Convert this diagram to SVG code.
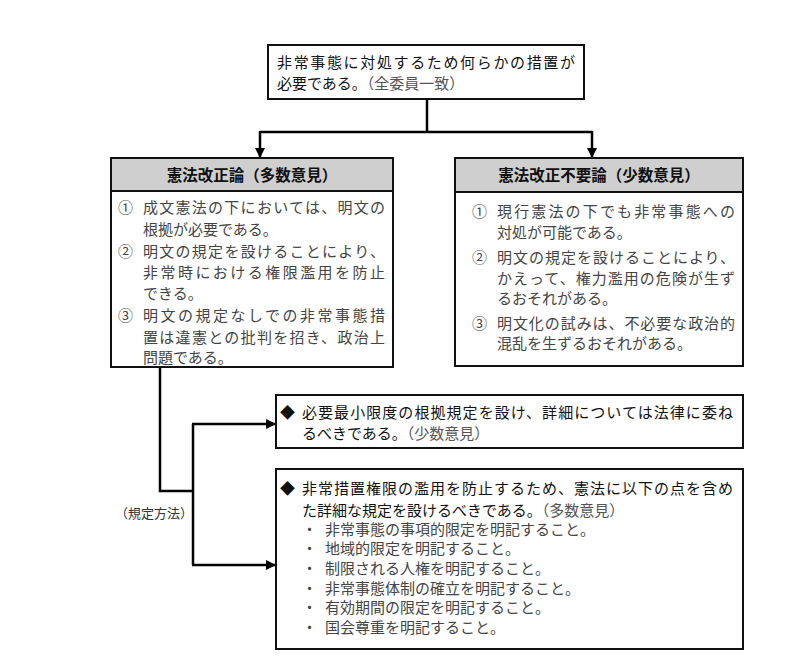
<svg xmlns="http://www.w3.org/2000/svg" width="800" height="656" viewBox="0 0 800 656">
<defs>
<style>
.box{fill:#fff;stroke:#111;stroke-width:2}
.hdr{fill:#cfcfcf;stroke:#111;stroke-width:2}
.con{fill:none;stroke:#000;stroke-width:2.5}
.s{font-family:"Noto Sans CJK JP","Noto Sans CJK SC",sans-serif;font-size:15px;fill:#111}
.b{font-family:"Noto Sans CJK JP","Noto Sans CJK SC",sans-serif;font-size:15.5px;font-weight:bold;fill:#111}
.m{font-family:"Noto Sans CJK JP","Noto Sans CJK SC",sans-serif;font-size:15px;fill:#444}
.g{fill:#555}
.lbl{font-family:"Noto Sans CJK JP","Noto Sans CJK SC",sans-serif;font-size:13px;fill:#333}
</style>
<marker id="ah" viewBox="0 0 10 10" refX="10" refY="5" markerWidth="10" markerHeight="10" markerUnits="userSpaceOnUse" orient="auto">
<path d="M0,0 L10,5 L0,10 z" fill="#000"/>
</marker>
</defs>
<rect width="800" height="656" fill="#fff"/>

<g id="connectors">
<path class="con" d="M427,99 V132"/>
<path class="con" d="M260,132 H592"/>
<path class="con" d="M260,131 V158" marker-end="url(#ah)"/>
<path class="con" d="M592,131 V158" marker-end="url(#ah)"/>
<path class="con" d="M160,367 V491 H193"/>
<path class="con" d="M193,424 V565"/>
<path class="con" d="M192,424 H276" marker-end="url(#ah)"/>
<path class="con" d="M192,565 H276" marker-end="url(#ah)"/>
</g>

<g id="top">
<rect class="box" x="268" y="45" width="316" height="54"/>
<text class="s" x="277" y="68" font-size="16" textLength="298" lengthAdjust="spacing">非常事態に対処するため何らかの措置が</text>
<text class="s" x="277" y="89" font-size="16">必要である。<tspan class="g" font-size="15">（全委員一致）</tspan></text>
</g>

<g id="left">
<rect class="box" x="111" y="158" width="282" height="209"/>
<rect class="hdr" x="111" y="158" width="282" height="33"/>
<text class="b" x="252" y="181" text-anchor="middle">憲法改正論（多数意見）</text>
<text class="m" x="118" y="213">①</text>
<text class="m" x="143" y="213" textLength="242" lengthAdjust="spacing">成文憲法の下においては、明文の</text>
<text class="m" x="143" y="235">根拠が必要である。</text>
<text class="m" x="118" y="257">②</text>
<text class="m" x="143" y="257" textLength="242" lengthAdjust="spacing">明文の規定を設けることにより、</text>
<text class="m" x="143" y="278" textLength="242" lengthAdjust="spacing">非常時における権限濫用を防止</text>
<text class="m" x="143" y="299">できる。</text>
<text class="m" x="118" y="321">③</text>
<text class="m" x="143" y="321" textLength="242" lengthAdjust="spacing">明文の規定なしでの非常事態措</text>
<text class="m" x="143" y="343" textLength="242" lengthAdjust="spacing">置は違憲との批判を招き、政治上</text>
<text class="m" x="143" y="363">問題である。</text>
</g>

<g id="right">
<rect class="box" x="455" y="158" width="288" height="208"/>
<rect class="hdr" x="455" y="158" width="288" height="34"/>
<text class="b" x="599" y="181" text-anchor="middle">憲法改正不要論（少数意見）</text>
<text class="m" x="472" y="217">①</text>
<text class="m" x="497" y="217" textLength="238" lengthAdjust="spacing">現行憲法の下でも非常事態への</text>
<text class="m" x="497" y="238">対処が可能である。</text>
<text class="m" x="472" y="263">②</text>
<text class="m" x="497" y="263" textLength="238" lengthAdjust="spacing">明文の規定を設けることにより、</text>
<text class="m" x="497" y="284" textLength="238" lengthAdjust="spacing">かえって、権力濫用の危険が生ず</text>
<text class="m" x="497" y="304">るおそれがある。</text>
<text class="m" x="472" y="329">③</text>
<text class="m" x="497" y="329" textLength="238" lengthAdjust="spacing">明文化の試みは、不必要な政治的</text>
<text class="m" x="497" y="349">混乱を生ずるおそれがある。</text>
</g>

<g id="minority">
<rect class="box" x="276" y="395" width="467" height="53"/>
<text class="s" x="280" y="418">◆</text>
<text class="s" x="302" y="418" textLength="431" lengthAdjust="spacing">必要最小限度の根拠規定を設け、詳細については法律に委ね</text>
<text class="s" x="302" y="439">るべきである。<tspan class="g">（少数意見）</tspan></text>
</g>

<g id="majority">
<rect class="box" x="276" y="469" width="467" height="180"/>
<text class="s" x="280" y="494">◆</text>
<text class="s" x="302" y="494" textLength="431" lengthAdjust="spacing">非常措置権限の濫用を防止するため、憲法に以下の点を含め</text>
<text class="s" x="302" y="516">た詳細な規定を設けるべきである。<tspan class="g">（多数意見）</tspan></text>
<text class="m" x="302" y="535">・</text><text class="m" x="325" y="535">非常事態の事項的限定を明記すること。</text>
<text class="m" x="302" y="554">・</text><text class="m" x="325" y="554">地域的限定を明記すること。</text>
<text class="m" x="302" y="574">・</text><text class="m" x="325" y="574">制限される人権を明記すること。</text>
<text class="m" x="302" y="594">・</text><text class="m" x="325" y="594">非常事態体制の確立を明記すること。</text>
<text class="m" x="302" y="613">・</text><text class="m" x="325" y="613">有効期間の限定を明記すること。</text>
<text class="m" x="302" y="633">・</text><text class="m" x="325" y="633">国会尊重を明記すること。</text>
</g>

<g id="label">
<text class="lbl" x="115" y="518">（規定方法）</text>
</g>
</svg>
